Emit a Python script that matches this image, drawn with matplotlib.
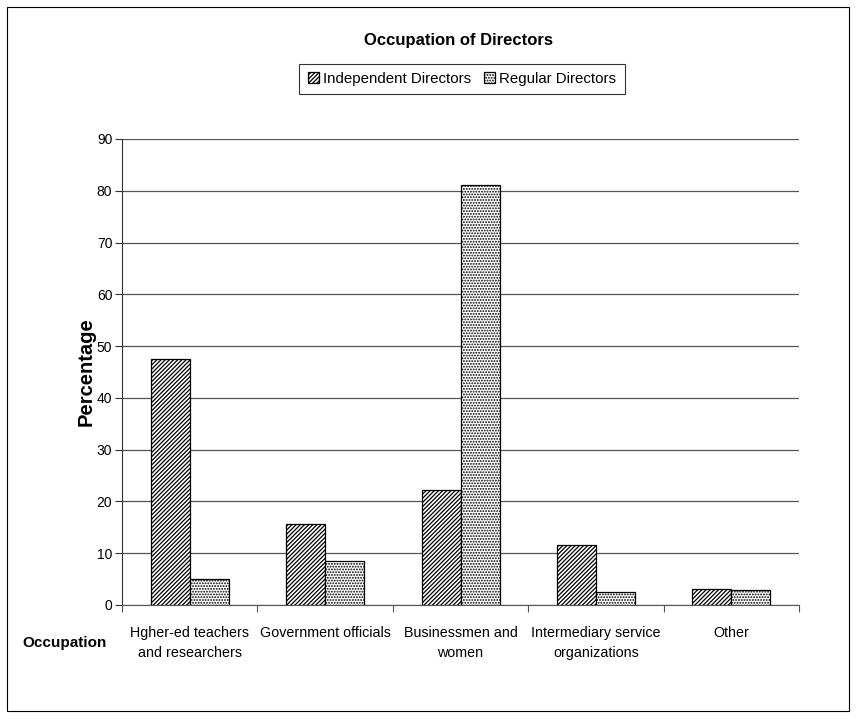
import matplotlib
matplotlib.use("Agg")
import matplotlib.pyplot as plt
from matplotlib.patches import Rectangle
import numpy as np

plt.rcParams['font.family'] = ['Liberation Sans', 'DejaVu Sans']
plt.rcParams['hatch.linewidth'] = 0.9

categories = ["Hgher-ed teachers\nand researchers", "Government officials",
              "Businessmen and\nwomen", "Intermediary service\norganizations", "Other"]
independent = [47.5, 15.7, 22.3, 11.6, 3.1]
regular = [5.0, 8.5, 81.2, 2.6, 2.9]
yticks = list(range(0, 100, 10))

fig = plt.figure(figsize=(8.57, 7.19), dpi=100)
ax = fig.add_axes([0.1424, 0.1586, 0.9323 - 0.1424, 0.8067 - 0.1586])

# outer border
fig.patches.append(Rectangle((7 / 857, 1 - 711 / 719), (849 - 7) / 857, (711 - 7) / 719,
                             transform=fig.transFigure, fill=False, edgecolor='black', lw=0.8))

x = np.arange(len(categories)) + 0.5
w = 0.288
b1 = ax.bar(x - w / 2, independent, w, facecolor='white', edgecolor='black', hatch='////////',
            lw=0.9, label='Independent Directors', zorder=3)
b2 = ax.bar(x + w / 2, regular, w, facecolor='white', edgecolor='black', hatch='......',
            lw=0.9, label='Regular Directors', zorder=3)

ax.set_xlim(0, len(categories))
ax.set_ylim(0, 90)
ax.set_yticks(yticks)
ax.yaxis.grid(True, color='#555555', lw=0.9, zorder=0)
ax.set_axisbelow(True)
for s in ['top', 'right']:
    ax.spines[s].set_visible(False)
ax.spines['left'].set_color('#333333')
ax.spines['bottom'].set_color('#555555')
ax.tick_params(axis='y', direction='out', length=5, labelsize=10, pad=2, color='#333333')

ax.set_xticks(np.arange(len(categories) + 1))
ax.set_xticklabels([])
ax.tick_params(axis='x', which='major', direction='out', length=5, color='#555555')
ax.set_xticks(x, minor=True)
ax.set_xticklabels(categories, minor=True, fontsize=10.3, linespacing=1.55)
ax.tick_params(axis='x', which='minor', length=0, pad=15)

ax.set_ylabel('Percentage', fontsize=14.5, fontweight='bold', labelpad=1)
fig.text(65 / 857, 1 - 643 / 719, 'Occupation', fontsize=11, fontweight='bold', ha='center', va='center')
fig.text(458 / 857, 1 - 40 / 719, 'Occupation of Directors', fontsize=12, fontweight='bold',
         ha='center', va='center')

leg = fig.legend(handles=[b1, b2], loc='center', bbox_to_anchor=(462 / 857, 1 - 79 / 719), ncol=2,
                 frameon=True, fancybox=False, edgecolor='black', fontsize=10.8, handlelength=0.75,
                 handleheight=0.75, handletextpad=0.3, columnspacing=0.8, borderpad=0.55)
leg.get_frame().set_linewidth(0.8)

fig.savefig('out.png', dpi=100)
